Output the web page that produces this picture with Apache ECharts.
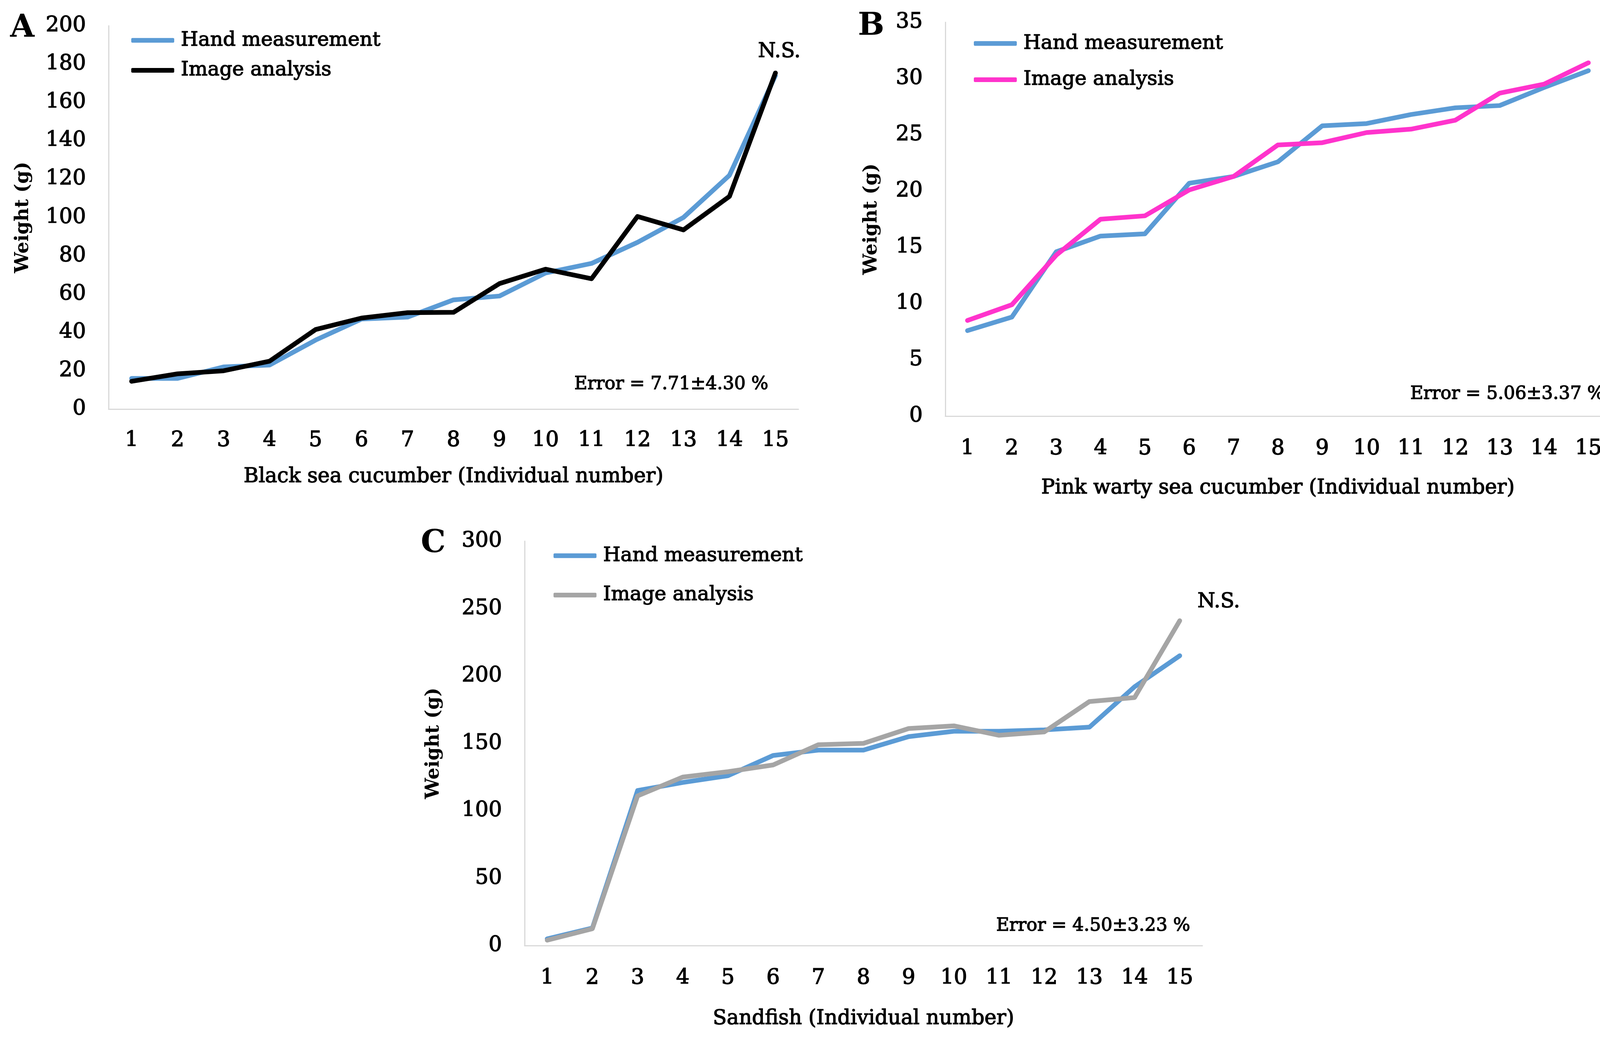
<!DOCTYPE html>
<html>
<head>
<meta charset="utf-8">
<style>
  html, body { margin: 0; padding: 0; background: #fff; }
  #chart { width: 4259px; height: 2654px; }
</style>
<script src="https://cdn.jsdelivr.net/npm/echarts@6/dist/echarts.min.js"></script>
</head>
<body>
<div id="chart"></div>
<script>
const individuals = ['1', '2', '3', '4', '5', '6', '7', '8', '9', '10', '11', '12', '13', '14', '15']

// A: black sea cucumber
const blackHand = [16, 16, 22, 23, 36, 47, 48, 57, 59, 71, 76, 87, 100, 122, 174]
const blackImage = [14.5, 18.4, 20, 25, 41.5, 47.5, 50.3, 50.5, 65.5, 73, 68, 100.5, 93.5, 111, 175.4]

// B: pink warty sea cucumber
const pinkHand = [7.6, 8.8, 14.6, 16.0, 16.2, 20.7, 21.3, 22.6, 25.8, 26.0, 26.8, 27.4, 27.6, 29.2, 30.7]
const pinkImage = [8.5, 9.9, 14.3, 17.5, 17.8, 20.1, 21.3, 24.1, 24.3, 25.2, 25.5, 26.3, 28.7, 29.5, 31.4]

// C: sandfish
const sandHand = [5, 13, 115, 121, 126, 141, 145, 145, 155, 159, 159, 160, 162, 192, 215]
const sandImage = [4, 12.5, 111, 125, 129, 134, 149, 150, 161, 163, 156, 158.5, 181, 184, 241]

const xTitles = ['Black sea cucumber (Individual number)', 'Pink warty sea cucumber (Individual number)', 'Sandfish (Individual number)']
const yMax = [200, 35, 300]
const yStep = [20, 5, 50]
const errorTexts = ['Error = 7.71±4.30 %', 'Error = 5.06±3.37 %', 'Error = 4.50±3.23 %']

const FONT = 'DejaVu Serif'
const BLUE = '#5B9BD5'
const lineColors = ['#000000', '#FF33CC', '#A5A5A5']

const grids = [
  { left: 278, top: 66, width: 1766, height: 981 },
  { left: 2420, top: 57, width: 1703, height: 1008 },
  { left: 1343, top: 1385, width: 1735, height: 1035 }
]
const yNameGap = [194, 164, 208]
const xNameGap = [147, 158, 161]
const xLabelGap = [54, 57, 57]
const legendPos = [
  { left: 331, top: 72, itemGap: 24 },
  { left: 2488, top: 80, itemGap: 40 },
  { left: 1412, top: 1391, itemGap: 48 }
]

const chart = echarts.init(document.getElementById('chart'))

const labelFont = { color: '#000', fontFamily: FONT, textBorderColor: '#000', textBorderWidth: 1.6 }

const xAxis = grids.map((g, i) => ({
  type: 'category',
  gridIndex: i,
  data: individuals,
  boundaryGap: true,
  axisLine: { lineStyle: { color: '#D9D9D9', width: 3 } },
  axisTick: { show: false },
  axisLabel: Object.assign({ fontSize: 54, margin: xLabelGap[i] }, labelFont),
  name: xTitles[i],
  nameLocation: 'middle',
  nameGap: xNameGap[i],
  nameTextStyle: Object.assign({ fontSize: 52 }, labelFont)
}))

const yAxis = grids.map((g, i) => ({
  type: 'value',
  gridIndex: i,
  min: 0,
  max: yMax[i],
  interval: yStep[i],
  axisLine: { show: true, lineStyle: { color: '#D9D9D9', width: 3 } },
  axisTick: { show: false },
  splitLine: { show: false },
  axisLabel: Object.assign({ fontSize: 54, margin: 58 }, labelFont),
  name: 'Weight (g)',
  nameLocation: 'middle',
  nameRotate: 90,
  nameGap: yNameGap[i],
  nameTextStyle: { color: '#000', fontFamily: FONT, fontSize: 48, fontWeight: 'bold' }
}))

const pairs = [[blackHand, blackImage], [pinkHand, pinkImage], [sandHand, sandImage]]
const series = []
pairs.forEach((p, i) => {
  series.push({
    name: i + '|Hand measurement',
    type: 'line',
    xAxisIndex: i,
    yAxisIndex: i,
    data: p[0],
    showSymbol: false,
    silent: true,
    itemStyle: { color: BLUE },
    lineStyle: { color: BLUE, width: 12, join: 'round', cap: 'round' }
  })
  series.push({
    name: i + '|Image analysis',
    type: 'line',
    xAxisIndex: i,
    yAxisIndex: i,
    data: p[1],
    showSymbol: false,
    silent: true,
    itemStyle: { color: lineColors[i] },
    lineStyle: { color: lineColors[i], width: 12, join: 'round', cap: 'round' }
  })
})

const legend = legendPos.map((l, i) => ({
  orient: 'vertical',
  left: l.left,
  top: l.top,
  itemGap: l.itemGap,
  itemWidth: 110,
  itemHeight: 12,
  icon: 'roundRect',
  selectedMode: false,
  data: [i + '|Hand measurement', i + '|Image analysis'],
  formatter: n => n.split('|')[1],
  textStyle: Object.assign({ fontSize: 51, lineHeight: 52, padding: [0, 0, 0, 12] }, labelFont)
}))

const txt = (x, y, text, size, weight, align) => ({
  type: 'text',
  x: x,
  y: y,
  style: {
    text: text,
    fontFamily: FONT,
    fontSize: size,
    fontWeight: weight,
    fill: '#000',
    stroke: '#000',
    lineWidth: weight === 'bold' ? 0 : 1.6,
    align: align,
    verticalAlign: 'middle'
  }
})

const graphic = [
  txt(57, 73, 'A', 80, 'bold', 'center'),
  txt(2230, 68, 'B', 80, 'bold', 'center'),
  txt(1109, 1392, 'C', 80, 'bold', 'center'),
  txt(1995, 132, 'N.S.', 52, 'normal', 'center'),
  txt(4180, 170, 'N.S.', 52, 'normal', 'center'),
  txt(3120, 1540, 'N.S.', 52, 'normal', 'center'),
  txt(1967, 984, errorTexts[0], 46, 'normal', 'right'),
  txt(4107, 1009, errorTexts[1], 46, 'normal', 'right'),
  txt(3047, 2370, errorTexts[2], 46, 'normal', 'right')
]

chart.setOption({
  animation: false,
  backgroundColor: '#fff',
  grid: grids,
  xAxis: xAxis,
  yAxis: yAxis,
  legend: legend,
  series: series,
  graphic: graphic
})
</script>
</body>
</html>
